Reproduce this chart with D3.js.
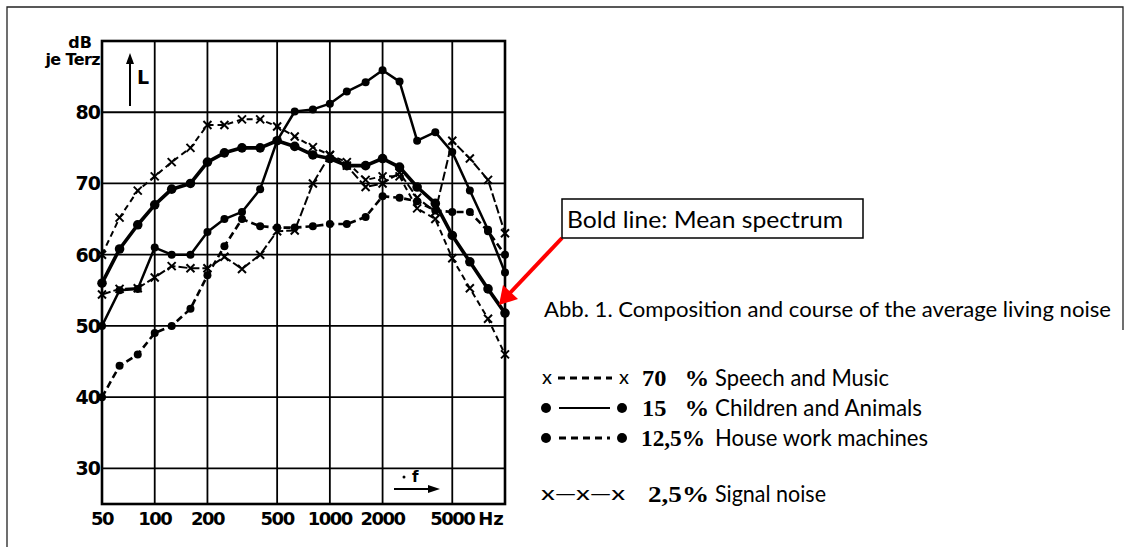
<!DOCTYPE html>
<html>
<head>
<meta charset="utf-8">
<script src="https://cdn.jsdelivr.net/npm/d3@7"></script>
<style>
  body { margin: 0; background: #fff; }
  svg { display: block; }
  .tick-label { font-family: "DejaVu Sans", sans-serif; font-weight: bold; fill: #000; }
  .note { font-family: Lato, "Open Sans", sans-serif; fill: #000; }
  .pct { font-family: "Liberation Serif", serif; font-weight: bold; fill: #000; }
</style>
</head>
<body>
<svg id="chart"></svg>
<script>
// third-octave band centres (Hz)
var freqs = [50, 63, 80, 100, 125, 160, 200, 250, 315, 400, 500, 630, 800, 1000,
  1250, 1600, 2000, 2500, 3150, 4000, 5000, 6300, 8000, 10000];

// levels in dB per third octave
var speechMusic = [60, 65.2, 69, 71, 73, 75, 78.2, 78.2, 79, 79, 78, 76.6, 75.1, 74,
  73, 70.5, 71, 71, 66.5, 65, 59.5, 55.3, 51, 46];
var childrenAnimals = [50, 55, 55.2, 61, 60, 60, 63.2, 65, 66, 69.2, 76, 80.1, 80.4, 81.2,
  82.9, 84.2, 85.9, 84.3, 76, 77.2, 74.4, 69, 63.5, 57.5];
var houseWork = [40, 44.4, 46, 49, 50, 52.4, 57.1, 61.2, 65, 64, 63.8, 63.8, 64, 64.3,
  64.3, 65.3, 68.2, 68, 67.5, 66.2, 66, 66, 63.3, 60];
var signalNoise = [54.4, 55.2, 55.3, 56.8, 58.4, 58.1, 58.1, 59.7, 58, 60, 63.3, 63.4, 70, 74,
  72.5, 69.5, 70, 71.5, 68, 66, 76, 73.5, 70.5, 63];
var meanSpectrum = [56, 60.8, 64.2, 67, 69.2, 70, 73, 74.3, 75, 75, 76, 75.2, 74, 73.5,
  72.5, 72.5, 73.5, 72.3, 69.5, 67.2, 62.7, 59, 55.2, 51.8];

var xTicks = [50, 100, 200, 500, 1000, 2000, 5000];
var xTickLabels = ["50", "100", "200", "500", "1000", "2000", "5000"];
var yTicks = [30, 40, 50, 60, 70, 80];

var legendSymbols = ["x----x", "o----o", "o- - o", "x-x-x"];
var legendPercents = ["70   %", "15   %", "12,5%", "2,5%"];
var legendLabels = ["Speech and Music", "Children and Animals", "House work machines", "Signal noise"];

var W = 1132, H = 547;
var svg = d3.select("#chart").attr("width", W).attr("height", H);

var x = d3.scaleLog().domain([50, 10000]).range([102, 505]);
var y = d3.scaleLinear().domain([25, 90]).range([504, 41]);

// outer frame of the figure
svg.append("path")
  .attr("d", "M7,547V7H1123V330")
  .attr("fill", "none").attr("stroke", "#222").attr("stroke-width", 1.3);

// grid
var g = svg.append("g");
g.selectAll("line.v").data(xTicks.slice(1)).enter().append("line")
  .attr("x1", function(d) { return x(d); }).attr("x2", function(d) { return x(d); })
  .attr("y1", y(90)).attr("y2", y(25))
  .attr("stroke", "#000").attr("stroke-width", 1.8);
g.selectAll("line.h").data(yTicks).enter().append("line")
  .attr("x1", x(50)).attr("x2", x(10000))
  .attr("y1", function(d) { return y(d); }).attr("y2", function(d) { return y(d); })
  .attr("stroke", "#000").attr("stroke-width", 1.8);
g.append("rect")
  .attr("x", x(50)).attr("y", y(90))
  .attr("width", x(10000) - x(50)).attr("height", y(25) - y(90))
  .attr("fill", "none").attr("stroke", "#000").attr("stroke-width", 2.6);

// axis labels
g.selectAll("text.yt").data(yTicks).enter().append("text")
  .attr("class", "tick-label")
  .attr("x", x(50) - 2).attr("y", function(d) { return y(d) + 7; })
  .attr("text-anchor", "end").attr("font-size", 19).attr("letter-spacing", -1)
  .text(function(d) { return d; });
g.selectAll("text.xt").data(xTicks).enter().append("text")
  .attr("class", "tick-label")
  .attr("x", function(d) { return x(d); }).attr("y", 525)
  .attr("text-anchor", "middle").attr("font-size", 18).attr("letter-spacing", -1.5)
  .text(function(d, i) { return xTickLabels[i]; });
g.append("text").attr("class", "tick-label")
  .attr("x", 491).attr("y", 525).attr("text-anchor", "middle")
  .attr("font-size", 18).text("Hz");
g.append("text").attr("class", "tick-label")
  .attr("x", 92).attr("y", 48).attr("text-anchor", "end")
  .attr("font-size", 16).text("dB");
g.append("text").attr("class", "tick-label")
  .attr("x", 100).attr("y", 65).attr("text-anchor", "end")
  .attr("font-size", 16).attr("letter-spacing", -0.6).text("je Terz");

// L and f arrows
g.append("line").attr("x1", 130).attr("x2", 130).attr("y1", 106).attr("y2", 60)
  .attr("stroke", "#000").attr("stroke-width", 2);
g.append("path").attr("d", "M126,64L130,53L134,64Z").attr("fill", "#000");
g.append("text").attr("class", "tick-label").attr("x", 137).attr("y", 84)
  .attr("font-size", 19).text("L");
g.append("line").attr("x1", 394).attr("x2", 432).attr("y1", 489).attr("y2", 489)
  .attr("stroke", "#000").attr("stroke-width", 2.2);
g.append("path").attr("d", "M428,485L440,489L428,493Z").attr("fill", "#000");
g.append("text").attr("class", "tick-label").attr("x", 412).attr("y", 482)
  .attr("font-size", 15).text("f");
g.append("circle").attr("cx", 404).attr("cy", 477).attr("r", 1.5).attr("fill", "#000");

// curves
var series = [
  {values: houseWork, dash: "7,4", width: 2.6, mark: "dot", r: 4},
  {values: signalNoise, dash: "9,3", width: 2, mark: "x", r: 4},
  {values: speechMusic, dash: "6,4", width: 2, mark: "x", r: 4},
  {values: childrenAnimals, dash: null, width: 2.5, mark: "dot", r: 4},
  {values: meanSpectrum, dash: null, width: 3.6, mark: "dot", r: 4.8}
];

var line = d3.line()
  .x(function(d) { return x(d.f); })
  .y(function(d) { return y(d.v); });

series.forEach(function(s) {
  var pts = freqs.map(function(f, i) { return {f: f, v: s.values[i]}; });
  svg.append("path").datum(pts)
    .attr("d", line)
    .attr("fill", "none").attr("stroke", "#000")
    .attr("stroke-width", s.width)
    .attr("stroke-dasharray", s.dash)
    .attr("stroke-linejoin", "round");
  if (s.mark == "dot") {
    svg.selectAll(null).data(pts).enter().append("circle")
      .attr("cx", function(d) { return x(d.f); })
      .attr("cy", function(d) { return y(d.v); })
      .attr("r", s.r).attr("fill", "#000");
  } else {
    svg.selectAll(null).data(pts).enter().append("path")
      .attr("transform", function(d) { return "translate(" + x(d.f) + "," + y(d.v) + ")"; })
      .attr("d", "M-4,-4L4,4M-4,4L4,-4")
      .attr("stroke", "#000").attr("stroke-width", 2);
  }
});

// annotation box and red arrow
svg.append("line").attr("x1", 562).attr("y1", 238).attr("x2", 509).attr("y2", 294)
  .attr("stroke", "#ff0000").attr("stroke-width", 4);
svg.append("path").attr("d", "M499,305L503,285L518,299Z").attr("fill", "#ff0000");
svg.append("rect").attr("x", 562).attr("y", 199).attr("width", 301).attr("height", 39)
  .attr("fill", "#fff").attr("stroke", "#000").attr("stroke-width", 1.5);
svg.append("text").attr("class", "note").attr("x", 567).attr("y", 228)
  .attr("font-size", 24).attr("textLength", 276).attr("lengthAdjust", "spacingAndGlyphs")
  .text("Bold line: Mean spectrum");
svg.append("text").attr("class", "note").attr("x", 544).attr("y", 317)
  .attr("font-size", 21).attr("textLength", 567).attr("lengthAdjust", "spacingAndGlyphs")
  .text("Abb. 1. Composition and course of the average living noise");

// legend
var rowY = [378, 408, 438, 494];
var labelW = [174, 207, 213, 111];
var lg = svg.append("g");
legendSymbols.forEach(function(sym, i) {
  var cy = rowY[i];
  if (i == 0) {
    lg.append("text").attr("class", "note").attr("x", 542).attr("y", cy + 6).attr("font-size", 20).text("x");
    lg.append("line").attr("x1", 558).attr("x2", 612).attr("y1", cy).attr("y2", cy)
      .attr("stroke", "#000").attr("stroke-width", 3).attr("stroke-dasharray", "7,5");
    lg.append("text").attr("class", "note").attr("x", 619).attr("y", cy + 6).attr("font-size", 20).text("x");
  } else if (i == 1 || i == 2) {
    lg.append("circle").attr("cx", 546).attr("cy", cy).attr("r", 5).attr("fill", "#000");
    lg.append("line").attr("x1", 559).attr("x2", 610).attr("y1", cy).attr("y2", cy)
      .attr("stroke", "#000").attr("stroke-width", i == 1 ? 2.2 : 3)
      .attr("stroke-dasharray", i == 1 ? null : "7,5");
    lg.append("circle").attr("cx", 622).attr("cy", cy).attr("r", 5).attr("fill", "#000");
  } else {
    lg.append("text").attr("class", "note").attr("x", 541).attr("y", cy + 6)
      .attr("font-size", 20).attr("textLength", 84).attr("lengthAdjust", "spacingAndGlyphs")
      .text("x\u2014x\u2014x");
  }
  lg.append("text").attr("class", "pct").attr("x", i < 2 ? 642 : (i == 2 ? 641 : 648)).attr("y", cy + 8)
    .attr("font-size", 23).attr("xml:space", "preserve")
    .attr("textLength", i < 2 ? 67 : (i == 2 ? 64 : 61)).attr("lengthAdjust", "spacingAndGlyphs")
    .text(legendPercents[i]);
  lg.append("text").attr("class", "note").attr("x", 715).attr("y", cy + 8)
    .attr("font-size", 23).attr("textLength", labelW[i]).attr("lengthAdjust", "spacingAndGlyphs")
    .text(legendLabels[i]);
});
</script>
</body>
</html>
